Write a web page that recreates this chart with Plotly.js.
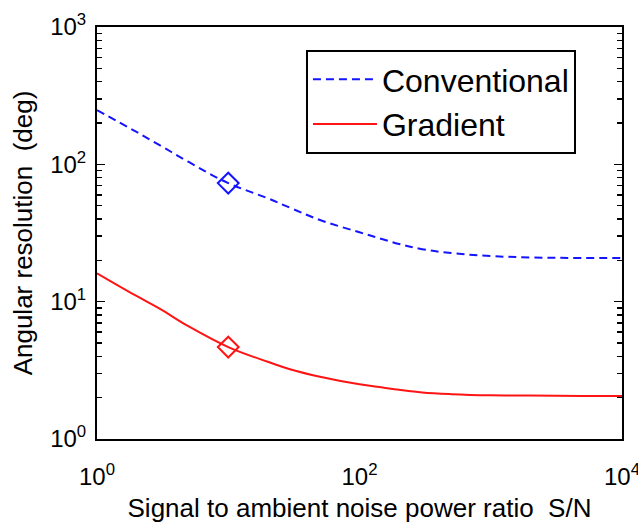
<!DOCTYPE html>
<html>
<head>
<meta charset="utf-8">
<script src="https://cdn.plot.ly/plotly-3.0.1.min.js"></script>
<style>html,body{margin:0;padding:0;background:#fff;}#chart{width:638px;height:523px;}</style>
</head>
<body>
<div id="chart"></div>
<script>
// Signal to noise ratio S/N (x) and angular resolution in degrees (y)
var snr = [1, 2, 3, 5, 10, 20, 30, 50, 100, 150, 200, 300, 500, 1000, 2000, 5000, 10000];
var conventional = [248, 172, 138, 104, 73, 56.6, 48, 39.3, 32, 28.5, 26.3, 24.1, 22.6, 21.5, 21.0, 20.8, 20.8];
var gradient = [16.1, 11.0, 8.9, 6.6, 4.67, 3.65, 3.21, 2.84, 2.5, 2.37, 2.28, 2.18, 2.12, 2.08, 2.07, 2.06, 2.06];
var markerX = [10];
var conventionalMarker = [73];
var gradientMarker = [4.67];
var seriesNames = ['Conventional', 'Gradient'];
var xTickVals = [1, 100, 10000];
var xTickText = ['10<sup>0</sup>', '10<sup>2</sup>', '10<sup>4</sup>'];
var yTickVals = [1, 10, 100, 1000];
var yTickText = ['10<sup>0</sup>', '10<sup>1</sup>', '10<sup>2</sup>', '10<sup>3</sup>'];

var minorVals = [];
for (var k = 0; k < 3; k++) {
  for (var m = 2; m <= 9; m++) minorVals.push(m * Math.pow(10, k));
}

var FONT = 'Liberation Sans, Arial, Helvetica, sans-serif';
var BLUE = '#1414ff', RED = '#ff1414';
var traces = [
  {x: snr, y: conventional, name: seriesNames[0], mode: 'lines',
   line: {color: BLUE, width: 2, dash: '8px,5px', shape: 'spline', smoothing: 1.1}},
  {x: snr, y: gradient, name: seriesNames[1], mode: 'lines',
   line: {color: RED, width: 2, shape: 'spline', smoothing: 1.1}},
  {x: markerX, y: conventionalMarker, mode: 'markers', showlegend: false,
   marker: {symbol: 'diamond-open', size: 16, color: BLUE, line: {width: 2}}},
  {x: markerX, y: gradientMarker, mode: 'markers', showlegend: false,
   marker: {symbol: 'diamond-open', size: 16, color: RED, line: {width: 2}}}
];

var layout = {
  width: 638, height: 523,
  margin: {l: 97, r: 16, t: 27, b: 84},
  paper_bgcolor: '#fff', plot_bgcolor: '#fff',
  font: {family: FONT, color: '#000', size: 24},
  showlegend: true,
  legend: {x: 0.398, y: 0.944, xanchor: 'left', yanchor: 'top',
    bordercolor: '#000', borderwidth: 2, bgcolor: '#fff',
    font: {family: FONT, size: 32, color: '#000'}, itemwidth: 64},
  xaxis: {type: 'log', range: [0, 4], tickmode: 'array', tickvals: xTickVals, ticktext: xTickText,
    showline: true, linecolor: '#000', linewidth: 2, mirror: true, ticks: '',
    ticklabeloverflow: 'allow', ticklabelstandoff: 15,
    showgrid: false, zeroline: false, tickfont: {size: 24},
    title: {text: 'Signal to ambient noise power ratio\u00a0 S/N', font: {size: 26}, standoff: 12}},
  yaxis: {type: 'log', range: [0, 3], tickmode: 'array', tickvals: yTickVals, ticktext: yTickText,
    showline: true, linecolor: '#000', linewidth: 2, mirror: 'ticks',
    ticks: 'inside', ticklen: 8, tickwidth: 1.5, tickcolor: '#000',
    ticklabeloverflow: 'allow', ticklabelstandoff: 4,
    minor: {tickmode: 'array', tickvals: minorVals, ticks: 'inside', ticklen: 5, tickwidth: 1.5, tickcolor: '#000', showgrid: false},
    showgrid: false, zeroline: false, tickfont: {size: 24},
    title: {text: 'Angular resolution\u00a0 (deg)', font: {size: 26}, standoff: 10}}
};

Plotly.newPlot('chart', traces, layout, {displayModeBar: false, staticPlot: true});
</script>
</body>
</html>
